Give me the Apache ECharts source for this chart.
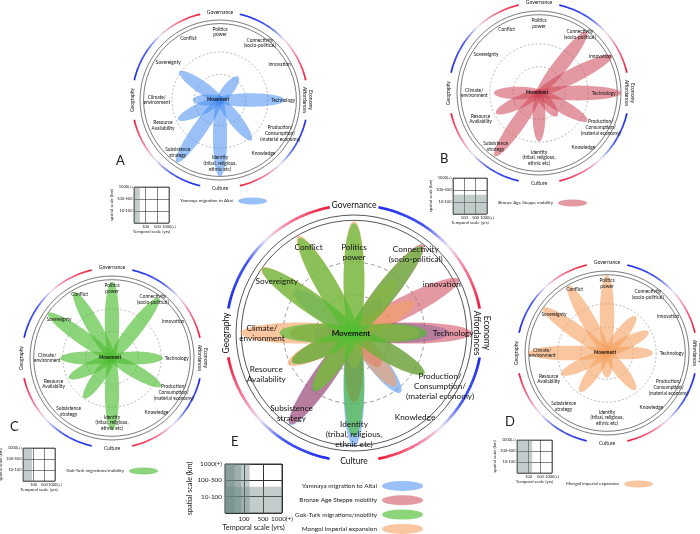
<!DOCTYPE html>
<html><head><meta charset="utf-8">
<script src="https://cdn.jsdelivr.net/npm/echarts@6/dist/echarts.min.js"></script>
<style>html,body{margin:0;padding:0;background:#fff}#c{width:700px;height:534px}</style>
</head><body><div id="c"></div>
<script>
// ---------------- DATA ----------------
const categories = ['Politics\npower','Connectivity\n(socio-political)','innovation','Technology',
  'Production/\nConsumption/\n(material economy)','Knowledge','Identity\n(tribal, religious,\nethnic etc)',
  'Subsistence\nstrategy','Resource\nAvailability','Climate/\nenvironment','Sovereignty','Conflict'];
const ringLabels = ['Governance','Economy\nAffordances','Culture','Geography'];
const centerLabel = 'Movement';
const seriesNames = ['Yamnaya migration to Altai','Bronze Age Steppe mobility','Gok-Turk migrations/mobility','Mongol imperial expansion'];
// petal length per category (fraction of outer ring), order = categories
const yamnaya   = [0, 0.37, 0, 0.81, 0, 0.64, 0.96, 0.95, 0.58, 0.34, 0.62, 0];
const bronzeAge = [0, 0.95, 1.0, 1.0, 0.68, 0.36, 0.59, 0.94, 0.58, 0.55, 0, 0];
const gokTurk   = [0.93, 0.93, 0, 0.62, 0.69, 0, 0.88, 0.6, 0.58, 0.63, 0.95, 0.93];
const mongol    = [0.95, 0.57, 0.57, 0.56, 0, 0.57, 0.3, 0.58, 0.62, 0.96, 0.96, 0.95];
// shaded extent in the scale grid: [temporal cells, spatial cells]
const scaleYamnaya = [0.5, 3];
const scaleBronze  = [3, 1.6];
const scaleGok     = [0.85, 3];
const scaleMongol  = [1.3, 3];
const temporalTicks = ['100','500','1000(+)'];
const spatialTicks  = ['10-100','100-500','1000(+)'];

// ---------------- LAYOUT / STYLE ----------------
const allValues = [yamnaya, bronzeAge, gokTurk, mongol];
const allScales = [scaleYamnaya, scaleBronze, scaleGok, scaleMongol];
const petalFill = ['rgba(70,140,240,0.55)','rgba(205,70,85,0.55)','rgba(80,190,50,0.65)','rgba(245,160,95,0.6)'];
const catAngle = [0,38,63,90,120,142,180,215,245,270,305,330];
const labelSmall = [[0.85,0],[0.87,35],[0.87,59],[0.79,90],[0.86,119],[0.86,141],[0.79,180],[0.84,219],[0.78,246],[0.79,270],[0.8,306],[0.87,333]];
const labelBig = [[0.68,0],[0.85,38],[0.85,61],[0.84,90],[0.86,122],[0.88,144],[0.86,180],[0.86,218],[0.82,245],[0.78,270],[0.79,304],[0.82,332]];
const FONT = 'Lato';
const panels = [
  {letter:'A', cx:220, cy:100, R:80, big:false, members:[0], letterPos:[116,154], grid:[134,187,35,36], legend:{right:433, top:197.5}},
  {letter:'B', cx:539, cy:93, R:82, big:false, members:[1], letterPos:[440,152], grid:[453,178,34,36], legend:{right:113, top:199.5}},
  {letter:'C', cx:112, cy:358, R:82, big:false, members:[2], letterPos:[10,420], grid:[23,448,32,33], legend:{right:542, top:467.5}},
  {letter:'D', cx:607, cy:353, R:82, big:false, members:[3], letterPos:[505,415], grid:[517,440,35,33], legend:{right:47, top:480.5}},
  {letter:'E', cx:354, cy:333, R:118, big:true, members:[0,1,3,2], letterPos:[231,435], grid:[225,464,57,49], legend:{right:277, top:481}}
];

function lerp(a,b,t){return a+(b-a)*t;}
function arcColor(t){
  const stops=[[0,[30,45,235]],[0.32,[70,90,240]],[0.52,[235,228,245]],[0.72,[245,120,150]],[1,[238,20,50]]];
  for(let k=0;k<stops.length-1;k++){
    const [t0,c0]=stops[k],[t1,c1]=stops[k+1];
    if(t<=t1){const u=(t-t0)/(t1-t0);return 'rgb('+c0.map((v,j)=>Math.round(lerp(v,c1[j],u))).join(',')+')';}
  }
  return 'rgb(238,20,50)';
}

const polar=[],angleAxis=[],radiusAxis=[],series=[],grid=[],xAxis=[],yAxis=[],legend=[],title=[];

panels.forEach((P,pi)=>{
  const big=P.big;
  polar.push({center:[P.cx,P.cy], radius:P.R});
  angleAxis.push({polarIndex:pi, type:'value', min:0, max:360, startAngle:90, clockwise:true, show:false});
  radiusAxis.push({polarIndex:pi, type:'value', min:0, max:1, show:false});

  // rings
  const ringStyles=[
    {stroke:'#444', lineWidth:big?0.9:0.7},
    {stroke:'#444', lineWidth:big?0.9:0.7},
    {stroke:'#999', lineWidth:big?1:0.7, lineDash:big?[4,3]:[2,2]},
    {stroke:'#999', lineWidth:big?1:0.7, lineDash:big?[4,3]:[2,2]}];
  series.push({type:'custom', coordinateSystem:'polar', polarIndex:pi, silent:true, z:1,
    data:[[1,0],[0.955,0],[0.6,0],[0.32,0]],
    renderItem:(params,api)=>{
      const c=api.coord([0,0]), p=api.coord([api.value(0),0]);
      return {type:'circle', shape:{cx:c[0],cy:c[1],r:Math.hypot(p[0]-c[0],p[1]-c[1])},
        style:Object.assign({fill:'none'},ringStyles[params.dataIndex])};
    }});

  // coloured gradient arcs
  const arcR = big?1.085:1.1, gap = big?11:13, step=1.5, arcData=[];
  for(let q=0;q<4;q++){
    const a0=90*q+gap, a1=90*q+90-gap;
    for(let a=a0;a<a1;a+=step){arcData.push([arcR, a, (a-a0)/(a1-a0), Math.min(a+step+0.4,a1)]);}
  }
  series.push({type:'custom', coordinateSystem:'polar', polarIndex:pi, silent:true, z:1, data:arcData,
    renderItem:(params,api)=>{
      const r=api.value(0), a=api.value(1), t=api.value(2), b=api.value(3);
      const p1=api.coord([r,a%360]), p2=api.coord([r,b%360]);
      return {type:'line', shape:{x1:p1[0],y1:p1[1],x2:p2[0],y2:p2[1]},
        style:{stroke:arcColor(t), lineWidth:big?2.6:1.6, lineCap:'butt'}};
    }});

  // ring labels
  series.push({type:'custom', coordinateSystem:'polar', polarIndex:pi, silent:true, z:4,
    data:[0,1,2,3].map(k=>[arcR,90*k,k]),
    renderItem:(params,api)=>{
      const k=api.value(2), p=api.coord([api.value(0),api.value(1)]);
      const rot = k===1?-Math.PI/2:(k===3?Math.PI/2:0);
      return {type:'text', x:p[0], y:p[1], rotation:rot,
        style:{text:ringLabels[k], fill:'#111', fontSize:big?8.5:5, fontFamily:FONT,
          align:'center', verticalAlign:'middle', lineHeight:big?10:6}};
    }});

  // petals
  P.members.forEach(s=>{
    series.push({type:'custom', name:seriesNames[s], coordinateSystem:'polar', polarIndex:pi, z:2,
      itemStyle:{color:petalFill[s]},
      data:allValues[s].map((v,i)=>[v,i]).filter(d=>d[0]>0),
      renderItem:(params,api)=>{
        const L=api.value(0), i=api.value(1), a=catAngle[i];
        const c=api.coord([0,a]), tip=api.coord([L,a]), one=api.coord([1,a]);
        const Rpx=Math.hypot(one[0]-c[0],one[1]-c[1]);
        let dx=tip[0]-c[0], dy=tip[1]-c[1]; const len=Math.hypot(dx,dy); dx/=len; dy/=len;
        const back=0.05*Rpx, half=(len+back)/2;
        const mx=c[0]+dx*(len-back)/2, my=c[1]+dy*(len-back)/2;
        const bw=Rpx*(0.12+0.06*L)/2;
        const pts=[];
        for(let k=0;k<64;k++){const t=k/64*Math.PI*2, ca=Math.cos(t)*half, sb=Math.sin(t)*bw;
          pts.push([mx+dx*ca-dy*sb, my+dy*ca+dx*sb]);}
        return {type:'polygon', shape:{points:pts}, style:{fill:petalFill[s]}};
      }});
  });

  // category labels
  const lp = big?labelBig:labelSmall;
  series.push({type:'custom', coordinateSystem:'polar', polarIndex:pi, silent:true, z:5,
    data:lp.map((d,i)=>[d[0],d[1],i]),
    renderItem:(params,api)=>{
      const p=api.coord([api.value(0),api.value(1)]), i=api.value(2);
      return {type:'text', x:p[0], y:p[1],
        style:{text:categories[i], fill:'#111', fontSize:big?8.2:4.8, fontFamily:FONT,
          align:'center', verticalAlign:'middle', lineHeight:big?10:5.8}};
    }});
  // centre label
  series.push({type:'custom', coordinateSystem:'polar', polarIndex:pi, silent:true, z:5,
    data:[[0,0]],
    renderItem:(params,api)=>{
      const p=api.coord([0,0]);
      return {type:'text', x:p[0]-(big?3:2), y:p[1],
        style:{text:centerLabel, fill:'#111', fontSize:big?8:4.6, fontWeight:'bold', fontFamily:FONT,
          align:'center', verticalAlign:'middle'}};
    }});

  // scale grid
  const [gl,gt,gw,gh]=P.grid;
  grid.push({left:gl, top:gt, width:gw, height:gh, show:true, borderColor:'#333', borderWidth:big?1:0.7,
    containLabel:false, outerBoundsMode:'none'});
  const fsz=big?6.4:4;
  xAxis.push({gridIndex:pi, type:'value', min:0, max:3, interval:1,
    axisLine:{show:false}, axisTick:{show:false},
    splitLine:{show:true, lineStyle:{color:'#333', width:big?1:0.6}},
    axisLabel:{fontSize:fsz, fontFamily:FONT, color:'#222', margin:big?2.5:1.5, hideOverlap:false,
      showMaxLabel:true, showMinLabel:true,
      formatter:v=>v>=1?temporalTicks[Math.round(v)-1]:''},
    name:'Temporal scale (yrs)', nameLocation:'middle', nameGap:big?11:7,
    nameTextStyle:{fontSize:big?7.3:4.4, fontFamily:FONT, color:'#222'}});
  yAxis.push({gridIndex:pi, type:'value', min:0, max:3, interval:1,
    axisLine:{show:false}, axisTick:{show:false},
    splitLine:{show:true, lineStyle:{color:'#333', width:big?1:0.6}},
    axisLabel:{fontSize:fsz, fontFamily:FONT, color:'#222', margin:big?3:1.5, hideOverlap:false,
      showMaxLabel:true, showMinLabel:true,
      formatter:v=>v>=1?spatialTicks[Math.round(v)-1]:''},
    name:'spatial scale (km)', nameLocation:'middle', nameGap:big?10:14,
    nameTextStyle:{fontSize:big?7.3:4.4, fontFamily:FONT, color:'#222'}});
  series.push({type:'custom', coordinateSystem:'cartesian2d', xAxisIndex:pi, yAxisIndex:pi, silent:true, z:1,
    data:P.members.map(s=>allScales[s]),
    renderItem:(params,api)=>{
      const p0=api.coord([0,0]), p1=api.coord([api.value(0),api.value(1)]);
      return {type:'rect', shape:{x:p0[0],y:p1[1],width:p1[0]-p0[0],height:p0[1]-p1[1]},
        style:{fill:'rgba(110,135,130,0.42)'}};
    }});

  // legend
  legend.push({data:P.members.slice().sort().map(s=>seriesNames[s]), right:P.legend.right, top:P.legend.top,
    orient:'vertical', align:'right', padding:0,
    itemWidth:big?41:29, itemHeight:big?10:7, itemGap:big?4.3:3,
    icon:'path://M0,5A21,5 0 1,1 42,5A21,5 0 1,1 0,5Z', symbolKeepAspect:false,
    selectedMode:false,
    textStyle:{fontSize:big?6.4:4.5, fontFamily:FONT, color:'#222', padding:[0,0,0,0]}});

  title.push({text:P.letter, left:P.letterPos[0], top:P.letterPos[1], padding:0,
    textStyle:{fontSize:13, fontWeight:'normal', fontFamily:FONT, color:'#222'}});
});

const chart = echarts.init(document.getElementById('c'), null, {renderer:'canvas'});
chart.setOption({animation:false, backgroundColor:'#fff', title, polar, angleAxis, radiusAxis, grid, xAxis, yAxis, legend, series});
</script></body></html>
